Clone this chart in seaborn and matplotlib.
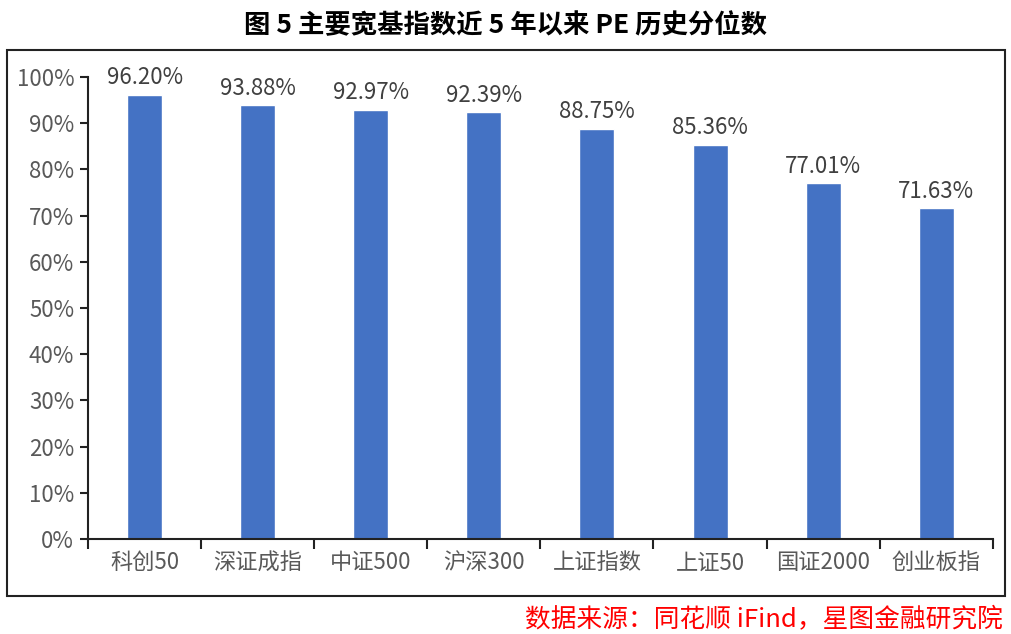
import numpy as np
import pandas as pd
import seaborn as sns
import matplotlib

matplotlib.use("Agg")
import matplotlib.pyplot as plt
from matplotlib.patches import Rectangle
from matplotlib.ticker import FuncFormatter, FixedLocator

# データ
indices = ["科创50", "深证成指", "中证500", "沪深300", "上证指数", "上证50", "国证2000", "创业板指"]
pe_pct = [96.20, 93.88, 92.97, 92.39, 88.75, 85.36, 77.01, 71.63]
title = "图 5 主要宽基指数近 5 年以来 PE 历史分位数"
source = "数据来源：同花顺 iFind，星图金融研究院"

sns.set_theme(style="white")
plt.rcParams["font.family"] = ["Noto Sans CJK SC", "DejaVu Sans"]

df = pd.DataFrame({"index": indices, "pct": pe_pct})

fig = plt.figure(figsize=(10.12, 6.34), dpi=100)
ax = fig.add_axes([0.087, 0.150, 0.894, 0.7285])

sns.barplot(data=df, x="index", y="pct", color="#4472C4", saturation=1,
            width=0.31, ax=ax)

ax.set_ylim(0, 100)
ax.set_xlim(-0.5, len(indices) - 0.5)
ax.set_yticks(np.arange(0, 101, 10))
ax.yaxis.set_major_formatter(FuncFormatter(lambda v, _: f"{v:.0f}%"))
ax.set_xlabel("")
ax.set_ylabel("")

# x軸の目盛はカテゴリ境界に
ax.xaxis.set_minor_locator(FixedLocator(np.arange(-0.5, len(indices), 1)))
ax.tick_params(axis="x", which="major", length=0, pad=9, labelsize=16, labelcolor="#595959")
ax.tick_params(axis="x", which="minor", bottom=True, length=7, width=1.5, color="#222222")
ax.tick_params(axis="y", left=True, length=6, width=1.5, color="#222222",
               labelsize=16, labelcolor="#595959", pad=4)

for s in ["top", "right"]:
    ax.spines[s].set_visible(False)
for s in ["left", "bottom"]:
    ax.spines[s].set_color("#222222")
    ax.spines[s].set_linewidth(1.5)

# ラベル
for p, v in zip(ax.patches, pe_pct):
    ax.annotate(f"{v:.2f}%", (p.get_x() + p.get_width() / 2, p.get_height()),
                xytext=(0, 4), textcoords="offset points",
                ha="center", va="bottom", fontsize=16, color="#404040")

# 枠線
fig.patches.append(Rectangle((0.0069, 0.060), 0.986, 0.861, transform=fig.transFigure,
                             fill=False, edgecolor="#222222", linewidth=1.5))

fig.text(0.5, 0.960, title, ha="center", va="center", fontsize=19,
         fontweight="bold", color="black")
fig.text(0.991, 0.021, source, ha="right", va="center", fontsize=18.5, color="#FF0000")

fig.savefig("out.png", dpi=100)
plt.close(fig)
